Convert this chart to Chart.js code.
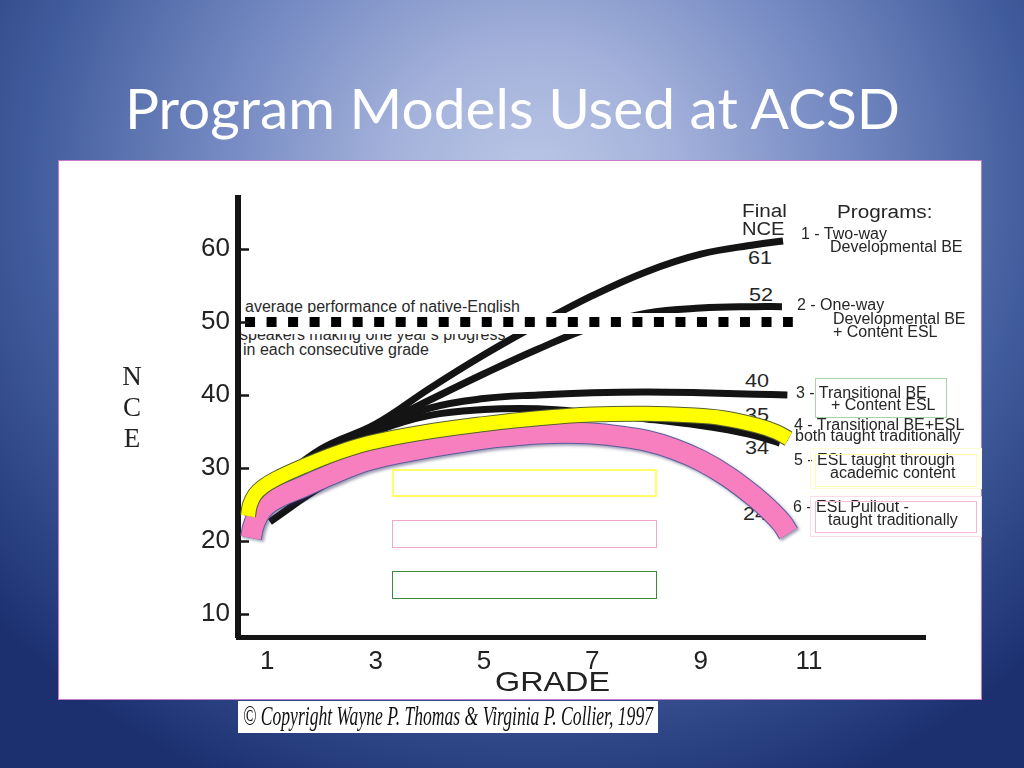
<!DOCTYPE html>
<html>
<head>
<meta charset="utf-8">
<title>Program Models Used at ACSD</title>
<script src="https://cdn.jsdelivr.net/npm/chart.js@4.4.1/dist/chart.umd.min.js"></script>
<style>
  html, body { margin:0; padding:0; }
  body { width:1024px; height:768px; overflow:hidden; position:relative;
    background: radial-gradient(ellipse 70% 86% at 52% 24%, #bcc7e6 0%, #a4b2db 20%, #7489c2 44%, #415c9c 70%, #1c3070 100%); }
  #panel { position:absolute; left:58px; top:160px; width:922px; height:538px; background:#fff; border:1px solid #c87ac8; }
  #copy { position:absolute; left:238px; top:701px; width:420px; height:32px; background:#fff; }
  #under, #over { position:absolute; left:0; top:0; width:1024px; height:768px; pointer-events:none; }
  #under { z-index:1; }
  #over { z-index:3; }
  #c { position:absolute; left:0; top:0; z-index:2; }
  .t { position:absolute; white-space:nowrap; color:#262626; font-family:"Liberation Sans", Arial, Helvetica, sans-serif; transform-origin:0 0; }
  .box { position:absolute; box-sizing:border-box; }
</style>
</head>
<body>
<div id="panel"></div>
<div id="copy"></div>
<div id="under"></div>
<canvas id="c" width="1024" height="768"></canvas>
<div id="over"></div>
<script>
// ---------------- data ----------------
const gradeTicks = [1, 3, 5, 7, 9, 11];
const nceTicks = [10, 20, 30, 40, 50, 60];

// 1 - Two-way Developmental BE (final 61)
const twoWayGrades = [1.0, 2.0, 3.0, 4.0, 5.0, 6.0, 7.0, 8.0, 9.0, 10.0, 10.52];
const twoWayNCE    = [27.0, 32.6, 36.0, 40.9, 45.5, 49.7, 53.6, 56.9, 59.3, 60.6, 61.1];
// 2 - One-way Developmental BE + Content ESL (final 52)
const oneWayGrades = [1.0, 2.0, 3.0, 4.0, 5.0, 6.0, 7.0, 8.0, 9.0, 10.0, 10.5];
const oneWayNCE    = [27.0, 32.4, 35.6, 39.3, 42.9, 46.3, 49.3, 51.2, 51.9, 52.1, 52.1];
// 3 - Transitional BE + Content ESL (final 40)
const transContentGrades = [1.0, 2.0, 3.0, 4.0, 5.0, 6.0, 7.0, 8.0, 9.0, 10.0, 10.6];
const transContentNCE    = [26.8, 32.2, 35.3, 38.2, 39.5, 40.0, 40.3, 40.4, 40.3, 40.1, 40.0];
// 4 - Transitional BE + ESL both taught traditionally (final 35)
const transTradGrades = [1.0, 2.0, 3.0, 4.0, 5.0, 6.0, 7.0, 8.0, 9.0, 9.5, 10.0, 10.46];
const transTradNCE    = [26.6, 31.9, 35.0, 37.2, 38.0, 38.1, 37.5, 36.7, 35.8, 35.2, 34.4, 33.4];
// 5 - ESL taught through academic content (final 34) - yellow highlight
const eslContentGrades = [0.645, 0.68, 0.77, 0.92, 1.16, 1.66, 2.27, 2.88, 3.75, 5.0, 6.0, 7.0, 8.0, 8.8, 9.41, 10.04, 10.4, 10.62];
const eslContentNCE    = [23.4, 24.9, 26.3, 27.4, 28.5, 30.2, 32.0, 33.4, 34.7, 36.0, 36.8, 37.3, 37.4, 37.2, 36.8, 35.8, 34.9, 34.0];
// 6 - ESL Pullout taught traditionally (final 24) - pink highlight and black line
const pulloutGrades = [0.70, 0.74, 0.83, 0.98, 1.24, 1.66, 2.27, 2.88, 3.75, 5.0, 5.5, 6.0, 6.5, 7.0, 7.5, 8.0, 8.5, 9.0, 9.5, 10.0, 10.3, 10.5, 10.62];
const pulloutNCE    = [20.4, 21.9, 23.5, 24.9, 26.1, 27.4, 29.4, 31.1, 32.5, 34.0, 34.4, 34.7, 34.8, 34.7, 34.3, 33.7, 32.6, 31.0, 28.8, 26.0, 24.0, 22.4, 21.0];
const pulloutLineGrades = [1.05, 2.05, 3.0, 4.0, 5.0, 6.0, 7.0, 8.0, 8.6, 9.2, 9.8, 10.2, 10.4];
const pulloutLineNCE    = [22.6, 27.6, 30.8, 32.6, 34.0, 34.7, 34.8, 34.3, 33.3, 31.2, 28.2, 25.7, 24.2];
// native-English speakers average performance (NCE 50)
const nativeGrades = [0.59, 10.7];
const nativeNCE    = [50, 50];
const maskGrades   = [0.52, 10.75];
const maskNCE      = [49.8, 49.8];

// ---------------- text helper ----------------
function txt(layer, s, x, base, size, o) {
  o = o || {};
  const d = document.createElement('div');
  d.className = 't';
  d.textContent = s;
  const k = o.k || 0.8465;
  d.style.fontSize = size + 'px';
  d.style.lineHeight = size + 'px';
  d.style.top = (base - k * size) + 'px';
  if (o.family) d.style.fontFamily = o.family;
  if (o.color) d.style.color = o.color;
  if (o.italic) d.style.fontStyle = 'italic';
  if (o.weight) d.style.fontWeight = o.weight;
  document.getElementById(layer).appendChild(d);
  const w = d.getBoundingClientRect().width;
  let sx = o.sx || 1;
  if (o.fit) sx = o.fit / w;
  let left = x;
  if (o.center) left = x - w * sx / 2;
  d.style.left = left + 'px';
  if (sx !== 1) d.style.transform = 'scaleX(' + sx + ')';
  return d;
}
function box(x1, y1, x2, y2, color, w) {
  const b = document.createElement('div');
  b.className = 'box';
  b.style.left = x1 + 'px'; b.style.top = y1 + 'px';
  b.style.width = (x2 - x1) + 'px'; b.style.height = (y2 - y1) + 'px';
  b.style.border = w + 'px solid ' + color;
  document.getElementById('over').appendChild(b);
}

// title & copyright
txt('over', 'Program Models Used at ACSD', 512, 130, 57, {family:'Lato, "Open Sans", sans-serif', color:'#ffffff', k:0.887, center:true, fit:775});
txt('over', '\u00A9 Copyright Wayne P. Thomas & Virginia P. Collier, 1997', 243, 726, 27, {family:'"Liberation Serif", "Times New Roman", serif', italic:true, color:'#111', k:0.8375, fit:410});

// axis titles
txt('over', 'GRADE', 552, 692, 28, {center:true, fit:115, color:'#222'});
const serif = {family:'"Liberation Serif", "Times New Roman", serif', k:0.8375, center:true, color:'#222'};
txt('over', 'N', 132, 386, 27, serif);
txt('over', 'C', 132, 417, 27, serif);
txt('over', 'E', 132, 448, 27, serif);

// native-English note (under the canvas so the dashed band masks it)
txt('under', 'average performance of native-English', 245, 313, 16, {color:'#2a2a2a'});
txt('under', "speakers making one year's progress", 240, 341, 16, {color:'#2a2a2a'});
txt('under', 'in each consecutive grade', 243, 356, 16, {color:'#2a2a2a'});

// final NCE values
const num = {sx:1.2, color:'#262626'};
txt('under', '61', 748, 264, 18, num);
txt('under', '52', 749, 301, 18, num);
txt('under', '40', 745, 387.5, 18, num);
txt('under', '35', 745, 421, 18, num);
txt('under', '34', 745, 454, 18, num);
txt('under', '24', 743, 520, 18, num);
txt('over', 'Final', 742, 217.5, 18, {sx:1.15});
txt('over', 'NCE', 742, 235.5, 18, {sx:1.12});
txt('over', 'Programs:', 837, 218.5, 18, {sx:1.15});

// program legend
const lg = {color:'#262626'};
txt('over', '1 - Two-way', 801, 239.7, 16, lg);
txt('over', 'Developmental BE', 830, 252.7, 16, lg);
txt('over', '2 - One-way', 797, 310.7, 16, lg);
txt('over', 'Developmental BE', 833, 324.7, 16, lg);
txt('over', '+ Content ESL', 833, 337.7, 16, lg);
txt('over', '3 - Transitional BE', 796, 398.7, 16, lg);
txt('over', '+ Content ESL', 831, 411, 16, lg);
txt('over', '4 - Transitional BE+ESL', 794, 430.7, 16, lg);
txt('over', 'both taught traditionally', 795, 442, 16, lg);
txt('over', '5 - ESL taught through', 794, 465.7, 16, lg);
txt('over', 'academic content', 830, 478.7, 16, lg);
txt('over', '6 - ESL Pullout -', 793, 512.7, 16, lg);
txt('over', 'taught traditionally', 828, 526, 16, lg);

// boxes
box(815, 378, 947, 418, '#a8d4a8', 1);
box(810, 448, 982, 489, '#fffbd0', 1);
box(815, 454, 977, 487, '#ffffa8', 1);
box(810, 496, 982, 537, '#f8dcea', 1);
box(815, 501, 977, 533, '#f2b8d4', 1);
box(392, 469, 657, 497, '#ffff66', 2);
box(392, 520, 657, 548, '#f2a6cc', 1.5);
box(392, 571, 657, 599, '#3a8a3a', 1.5);

// ---------------- chart ----------------
const pts = (gs, vs) => gs.map((g, i) => ({x: g, y: vs[i]}));
const BLACK = '#141414';

const bandShadow = {
  id: 'bandShadow',
  beforeDatasetDraw(chart, args) {
    const ds = chart.data.datasets[args.index];
    if (ds.shadow) {
      const c = chart.ctx; c.save();
      c.shadowColor = 'rgba(40,40,90,0.45)'; c.shadowBlur = 3; c.shadowOffsetX = 2; c.shadowOffsetY = 2;
    }
  },
  afterDatasetDraw(chart, args) {
    const ds = chart.data.datasets[args.index];
    if (ds.shadow) chart.ctx.restore();
  }
};
const innerTicks = {
  id: 'innerTicks',
  afterDraw(chart) {
    const y = chart.scales.y, c = chart.ctx, left = chart.chartArea.left;
    c.save(); c.strokeStyle = '#151515'; c.lineWidth = 2.5;
    y.ticks.forEach(t => {
      const py = Math.round(y.getPixelForValue(t.value)) + 0.5;
      c.beginPath(); c.moveTo(left + 2, py); c.lineTo(left + 11, py); c.stroke();
    });
    c.restore();
  }
};

const tickFont = {family: '"Liberation Sans", Arial, Helvetica, sans-serif', size: 26};

new Chart(document.getElementById('c'), {
  type: 'line',
  data: {
    datasets: [
      {label:'Native-English average', data: pts(nativeGrades, nativeNCE), borderColor:'#000', borderWidth:10, borderDash:[10, 11.52], tension:0, order:0},
      {label:'mask', data: pts(maskGrades, maskNCE), borderColor:'#ffffff', borderWidth:21, tension:0, order:1},
      {label:'5 highlight', data: pts(eslContentGrades, eslContentNCE), borderColor:'#ffff00', borderWidth:14, order:2},
      {label:'5 outline', data: pts(eslContentGrades, eslContentNCE), borderColor:'#56602c', borderWidth:16, order:3},
      {label:'6 highlight', data: pts(pulloutGrades, pulloutNCE), borderColor:'#f77fbf', borderWidth:20, order:4},
      {label:'6 outline', data: pts(pulloutGrades, pulloutNCE), borderColor:'#5c5c9c', borderWidth:22, order:5, shadow:true},
      {label:'5 - ESL content', data: pts(eslContentGrades, eslContentNCE), borderColor:BLACK, borderWidth:7, order:6},
      {label:'6 - ESL Pullout', data: pts(pulloutLineGrades, pulloutLineNCE), borderColor:BLACK, borderWidth:7, order:7},
      {label:'4 - Transitional trad.', data: pts(transTradGrades, transTradNCE), borderColor:BLACK, borderWidth:7, order:8},
      {label:'3 - Transitional content', data: pts(transContentGrades, transContentNCE), borderColor:BLACK, borderWidth:7, order:9},
      {label:'2 - One-way', data: pts(oneWayGrades, oneWayNCE), borderColor:BLACK, borderWidth:7, order:10},
      {label:'1 - Two-way', data: pts(twoWayGrades, twoWayNCE), borderColor:BLACK, borderWidth:7, order:11}
    ]
  },
  options: {
    responsive: false,
    animation: false,
    events: [],
    layout: {padding: {left: 178, top: 198, right: 99, bottom: 91}},
    plugins: {legend: {display: false}, tooltip: {enabled: false}},
    elements: {
      point: {radius: 0},
      line: {borderCapStyle: 'butt', borderJoinStyle: 'round', tension: 0.4, fill: false}
    },
    scales: {
      x: {
        type: 'linear', min: 0.46, max: 13.14,
        afterBuildTicks: s => { s.ticks = gradeTicks.map(v => ({value: v})); },
        afterFit: s => { s.height = 40; },
        grid: {display: false, drawTicks: false},
        border: {display: true, color: '#141414', width: 5},
        ticks: {color: '#222', font: tickFont, padding: 9, maxRotation: 0, autoSkip: false}
      },
      y: {
        type: 'linear', min: 6.8, max: 67,
        afterBuildTicks: s => { s.ticks = nceTicks.map(v => ({value: v})); },
        afterFit: s => { s.width = 60; },
        grid: {display: false, drawTicks: false},
        border: {display: true, color: '#141414', width: 6},
        ticks: {color: '#222', font: tickFont, padding: 8, autoSkip: false}
      }
    }
  },
  plugins: [bandShadow, innerTicks]
});
</script>
</body>
</html>
